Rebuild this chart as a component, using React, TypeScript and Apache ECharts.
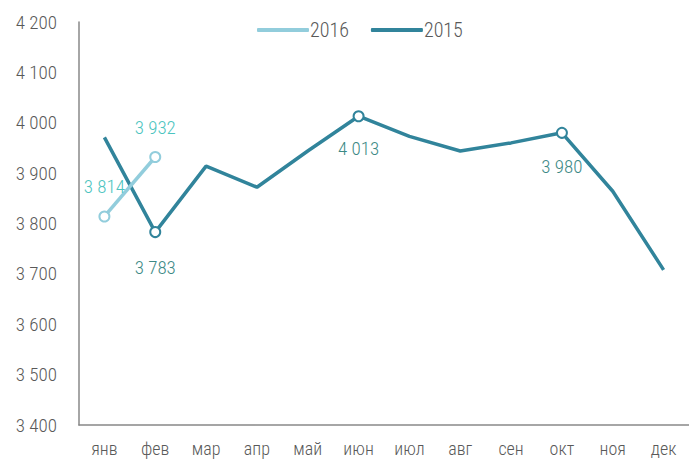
import React, { useEffect, useRef } from "react";
import * as echarts from "echarts";

const months = ["янв", "фев", "мар", "апр", "май", "июн", "июл", "авг", "сен", "окт", "ноя", "дек"];
const values2016: (number | null)[] = [3814, 3932, null, null, null, null, null, null, null, null, null, null];
const values2015 = [3971, 3783, 3914, 3872, 3944, 4013, 3973, 3944, 3960, 3980, 3864, 3708];
const marked2015 = [1, 5, 9];
const labelPos2015: Record<number, { position: string; distance: number; offset: number[] }> = {
  1: { position: "bottom", distance: 20, offset: [0, 0] },
  5: { position: "bottom", distance: 17, offset: [0, 0] },
  9: { position: "bottom", distance: 18, offset: [0, 0] },
};
const yTicks = { min: 3400, max: 4200, interval: 100 };

const FONT = "'Roboto Condensed', Roboto, sans-serif";
const W = 300;
const fmt = (v: number) => String(v).replace(/\B(?=(\d{3})+(?!\d))/g, " ");

export default function App() {
  const ref = useRef<HTMLDivElement>(null);
  useEffect(() => {
    const chart = echarts.init(ref.current!, null, { renderer: "svg" });
    const c2016 = "#92CDDC";
    const c2015 = "#31849B";
    const l2016 = "#4BC4C0";
    const l2015 = "#3C8985";
    const data2016 = values2016.map((v, i) => ({
      value: v,
      symbol: "emptyCircle",
      label: {
        show: v !== null,
        position: "top",
        distance: 14,
        formatter: (p: any) => fmt(p.value),
        color: l2016,
        fontSize: 19,
        fontWeight: W,
        fontFamily: FONT,
      },
    }));
    const data2015 = values2015.map((v, i) => {
      const marked = marked2015.includes(i);
      const lp = labelPos2015[i];
      return {
        value: v,
        symbol: marked ? "emptyCircle" : "none",
        label: marked
          ? {
              show: true,
              position: lp.position,
              distance: lp.distance,
              offset: lp.offset,
              formatter: (p: any) => fmt(p.value),
              color: l2015,
              fontSize: 19,
              fontWeight: W,
              fontFamily: FONT,
            }
          : { show: false },
      };
    });
    chart.setOption({
      animation: false,
      legend: {
        top: 15,
        left: 252,
        itemWidth: 52,
        itemHeight: 4,
        itemGap: 22,
        icon: "roundRect",
        textStyle: { color: "#595959", fontSize: 20, fontWeight: W, fontFamily: FONT, padding: [0, 0, 0, -4] },
        data: [
          { name: "2016", itemStyle: { color: c2016 } },
          { name: "2015", itemStyle: { color: c2015 } },
        ],
      },
      grid: { left: 79, right: -2, top: 22, bottom: 41, containLabel: false },
      xAxis: {
        type: "category",
        data: months,
        boundaryGap: true,
        axisLine: { lineStyle: { color: "#888888", width: 1.5 } },
        axisTick: { show: false },
        axisLabel: { color: "#595959", fontSize: 18, fontWeight: W, fontFamily: FONT, margin: 14 },
      },
      yAxis: {
        type: "value",
        min: yTicks.min,
        max: yTicks.max,
        interval: yTicks.interval,
        axisLine: { show: true, lineStyle: { color: "#888888", width: 1.5 } },
        axisTick: { show: false },
        splitLine: { show: false },
        axisLabel: { color: "#595959", fontSize: 19, fontWeight: W, fontFamily: FONT, margin: 22, formatter: (v: number) => fmt(v) },
      },
      series: [
        {
          name: "2016",
          type: "line",
          data: data2016,
          symbol: "emptyCircle",
          symbolSize: 10,
          showAllSymbol: true,
          lineStyle: { color: c2016, width: 3.5 },
          itemStyle: { color: c2016, borderWidth: 2 },
          z: 3,
        },
        {
          name: "2015",
          type: "line",
          data: data2015,
          symbol: "emptyCircle",
          symbolSize: 10,
          showAllSymbol: true,
          lineStyle: { color: c2015, width: 3.5 },
          itemStyle: { color: c2015, borderWidth: 2 },
          z: 2,
        },
      ],
    });
    return () => chart.dispose();
  }, []);
  return <div ref={ref} style={{ width: 689, height: 466, position: "absolute", left: 0, top: 0 }} />;
}
